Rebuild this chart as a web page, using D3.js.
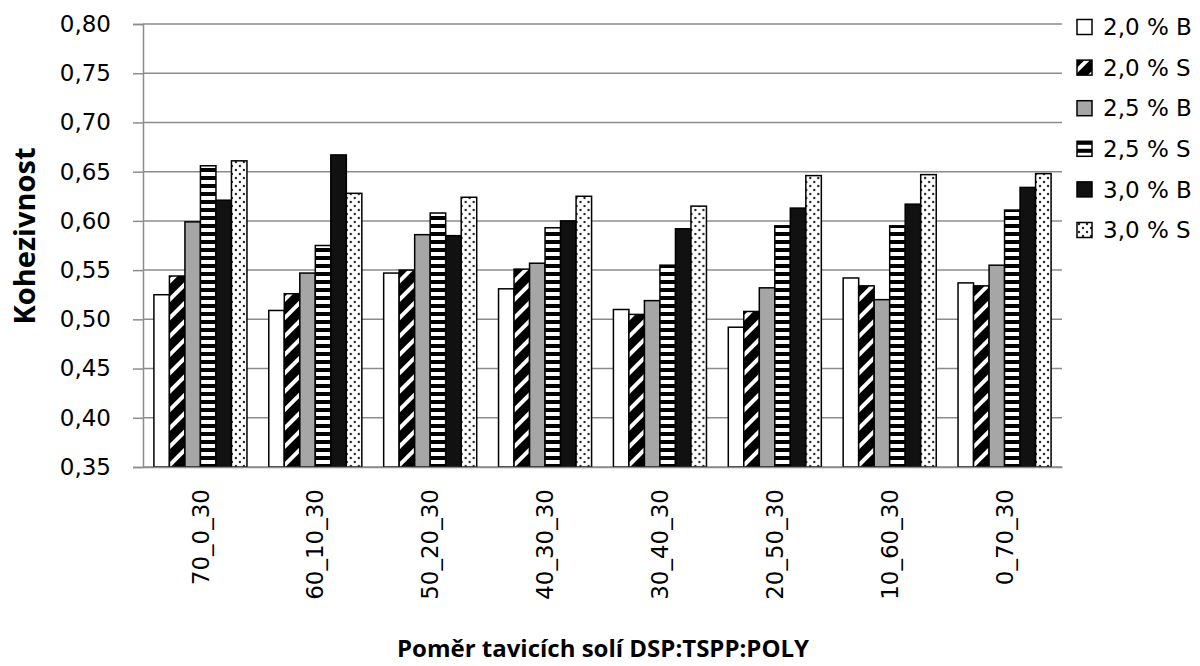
<!DOCTYPE html>
<html>
<head>
<meta charset="utf-8">
<script src="https://cdn.jsdelivr.net/npm/d3@7"></script>
<style>
  body { margin: 0; background: #fff; }
  text { font-family: "DejaVu Sans", sans-serif; fill: #000; }
</style>
</head>
<body>
<svg id="chart" width="1200" height="666"></svg>
<script>
const categories = ["70_0_30", "60_10_30", "50_20_30", "40_30_30", "30_40_30", "20_50_30", "10_60_30", "0_70_30"];
const seriesNames = ["2,0 % B", "2,0 % S", "2,5 % B", "2,5 % S", "3,0 % B", "3,0 % S"];
const b20 = [0.525, 0.509, 0.547, 0.531, 0.510, 0.492, 0.542, 0.537];
const s20 = [0.544, 0.526, 0.550, 0.551, 0.505, 0.508, 0.534, 0.534];
const b25 = [0.599, 0.547, 0.586, 0.557, 0.519, 0.532, 0.520, 0.555];
const s25 = [0.656, 0.575, 0.608, 0.593, 0.555, 0.595, 0.595, 0.611];
const b30 = [0.621, 0.667, 0.585, 0.600, 0.592, 0.613, 0.617, 0.634];
const s30 = [0.661, 0.628, 0.624, 0.625, 0.615, 0.646, 0.647, 0.648];
const yTicks = [0.35, 0.40, 0.45, 0.50, 0.55, 0.60, 0.65, 0.70, 0.75, 0.80];

const seriesValues = [b20, s20, b25, s25, b30, s30];
const fills = ["#fff", "url(#diag)", "#a6a6a6", "url(#hstripe)", "#111", "url(#dots)"];

const plot = { left: 143, right: 1062, top: 24, bottom: 467 };
const svg = d3.select("#chart");

// patterns
const defs = svg.append("defs");
const diag = defs.append("pattern").attr("id", "diag")
  .attr("patternUnits", "userSpaceOnUse")
  .attr("width", 13).attr("height", 13)
  .attr("patternTransform", "rotate(45)");
diag.append("rect").attr("width", 13).attr("height", 13).attr("fill", "#000");
diag.append("rect").attr("x", 0).attr("width", 4).attr("height", 13).attr("fill", "#fff");

const hs = defs.append("pattern").attr("id", "hstripe")
  .attr("patternUnits", "userSpaceOnUse")
  .attr("width", 8).attr("height", 8);
hs.append("rect").attr("width", 8).attr("height", 8).attr("fill", "#fff");
hs.append("rect").attr("width", 8).attr("height", 4).attr("fill", "#000");

const dots = defs.append("pattern").attr("id", "dots")
  .attr("patternUnits", "userSpaceOnUse")
  .attr("width", 8).attr("height", 8);
dots.append("rect").attr("width", 8).attr("height", 8).attr("fill", "#fff");
dots.append("circle").attr("cx", 2).attr("cy", 2).attr("r", 1.2).attr("fill", "#222");
dots.append("circle").attr("cx", 6).attr("cy", 6).attr("r", 1.2).attr("fill", "#222");

const y = d3.scaleLinear().domain([0.35, 0.80]).range([plot.bottom, plot.top]);
const x = d3.scaleBand().domain(categories).range([plot.left, plot.right])
  .paddingInner(0.19).paddingOuter(0.095);
const xs = d3.scaleBand().domain(d3.range(seriesNames.length)).range([0, x.bandwidth()]);

// gridlines
svg.append("g").selectAll("line").data(yTicks).join("line")
  .attr("x1", plot.left).attr("x2", plot.right)
  .attr("y1", d => y(d)).attr("y2", d => y(d))
  .attr("stroke", "#8c8c8c").attr("stroke-width", 1.5);

// y axis
const fmt = d => d3.format(".2f")(d).replace(".", ",");
const yAxis = svg.append("g").attr("transform", `translate(${plot.left},0)`)
  .call(d3.axisLeft(y).tickValues(yTicks).tickFormat(fmt).tickSize(10).tickPadding(22));
yAxis.select(".domain").attr("stroke", "#8c8c8c").attr("stroke-width", 1.5);
yAxis.selectAll(".tick line").attr("stroke", "#8c8c8c").attr("stroke-width", 1.5);
yAxis.selectAll("text").style("font-size", "23px").style("font-family", "DejaVu Sans");

// bars
const groups = svg.append("g").selectAll("g").data(categories).join("g")
  .attr("transform", c => `translate(${x(c)},0)`);
groups.selectAll("rect")
  .data((c, i) => seriesValues.map((vals, s) => ({ s, v: vals[i] })))
  .join("rect")
  .attr("x", d => xs(d.s))
  .attr("width", xs.bandwidth())
  .attr("y", d => y(d.v))
  .attr("height", d => y(0.35) - y(d.v))
  .attr("fill", d => fills[d.s])
  .attr("stroke", "#000")
  .attr("stroke-width", 1.5);

// x axis
const xAxis = svg.append("g").attr("transform", `translate(0,${plot.bottom})`)
  .call(d3.axisBottom(x).tickSize(0).tickPadding(0));
xAxis.select(".domain").attr("stroke", "#8c8c8c").attr("stroke-width", 1.5);
xAxis.selectAll("text")
  .attr("transform", "rotate(-90)")
  .attr("x", -22).attr("y", 0).attr("dy", "0.35em")
  .style("text-anchor", "end")
  .style("font-size", "23px").style("font-family", "DejaVu Sans");

// axis titles
svg.append("text")
  .attr("x", 603).attr("y", 657)
  .attr("text-anchor", "middle")
  .style("font-family", "Open Sans").style("font-weight", "bold").style("font-size", "24px")
  .text("Poměr tavicích solí DSP:TSPP:POLY");
svg.append("text")
  .attr("transform", "translate(35,236) rotate(-90)")
  .attr("text-anchor", "middle")
  .style("font-family", "Open Sans").style("font-weight", "bold").style("font-size", "29px")
  .text("Kohezivnost");

// legend
const legend = svg.append("g").selectAll("g").data(seriesNames).join("g")
  .attr("transform", (d, i) => `translate(1077,${27 + i * 40.6})`);
legend.append("rect")
  .attr("x", 0).attr("y", -7.5).attr("width", 15).attr("height", 15)
  .attr("fill", (d, i) => fills[i]).attr("stroke", "#000").attr("stroke-width", 1.5);
legend.append("text")
  .attr("x", 26).attr("dy", "0.36em")
  .style("font-size", "23px")
  .text(d => d);
</script>
</body>
</html>
